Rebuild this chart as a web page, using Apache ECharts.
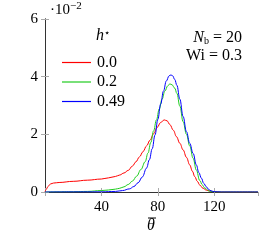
<!DOCTYPE html>
<html><head><meta charset="utf-8">
<script src="https://cdn.jsdelivr.net/npm/echarts@6/dist/echarts.min.js"></script>
<style>html,body{margin:0;padding:0;background:#fff}#c{width:259px;height:241px}</style>
</head><body><div id="c"></div>
<script>
// values in units of 1e-2
const seriesNames = ['0.0', '0.2', '0.49'];
const thetaRed = [0,1,2,3,4,6,10,20,30,40,45,50,53,56,59,62,64.5,67,69.5,72,74.5,77,79.5,82,84.5,86.5,88.5,91,93.2,95.6,97.9,100.3,102.6,104.5,106.2,108,109.7,112,114.2,117,120,124,151];
const valuesRed = [0,0.1,0.18,0.24,0.28,0.31,0.33,0.37,0.41,0.45,0.49,0.54,0.59,0.66,0.75,0.9,1.05,1.22,1.4,1.6,1.8,2.02,2.24,2.41,2.5,2.47,2.34,2.14,1.92,1.69,1.46,1.2,0.94,0.72,0.53,0.37,0.24,0.13,0.07,0.03,0.01,0,0];
const thetaGreen = [0,20,30,40,45,50,53,56,59,62,65,68,71,73,75,77,79,81,83,85,87,88.5,90,92,93.5,95.6,97.9,100.3,102.6,105,107.3,109.7,111.5,113.2,116.5,120,125,151];
const valuesGreen = [0,0.01,0.02,0.05,0.07,0.1,0.13,0.18,0.26,0.38,0.55,0.78,1.05,1.35,1.72,2.12,2.5,2.88,3.22,3.5,3.68,3.75,3.72,3.6,3.42,2.98,2.44,2.0,1.6,1.17,0.76,0.4,0.25,0.14,0.03,0.005,0,0];
const thetaBlue = [0,40,50,55,60,63,66,69,72,74,76,78,80,82,84,86,88,89.3,90.5,92,93.5,95.6,97.9,100.3,102.6,105,107.3,109,110.9,112.5,114.4,116,117.7,120,125,151];
const valuesBlue = [0,0.005,0.02,0.05,0.11,0.19,0.32,0.52,0.83,1.12,1.5,1.98,2.52,3.05,3.5,3.85,4.03,4.06,4.03,3.9,3.7,3.22,2.62,2.09,1.69,1.34,0.94,0.68,0.48,0.3,0.18,0.09,0.04,0.01,0,0];
const xTicks = [40, 80, 120];
const yTicks = [0, 2, 4, 6];
const colors = ['#ff0000', '#1fcc1f', '#0000ff'];

const zip = (xs, ys) => xs.map((x, i) => [x, ys[i]]);
const F = 'Liberation Serif';
const chart = echarts.init(document.getElementById('c'), null, {renderer: 'canvas'});
const axisCommon = {
  axisLine: {show: true, lineStyle: {color: '#333', width: 1}},
  axisTick: {show: true, inside: true, length: 4, lineStyle: {color: '#aaa', width: 1}},
  splitLine: {show: false}
};
chart.setOption({
  animation: false,
  grid: {left: 45, top: 19, right: 1, bottom: 49, containLabel: false, outerBoundsMode: 'none'},
  xAxis: [
    Object.assign({type: 'value', min: 0, max: 151, interval: 40, position: 'bottom',
      axisLabel: {show: true, showMaxLabel: false, margin: 8, color: '#000', fontFamily: F, fontSize: 15,
        formatter: v => xTicks.includes(v) ? String(v) : ''}}, axisCommon),
    Object.assign({type: 'value', min: 0, max: 151, interval: 40, position: 'top',
      axisLabel: {show: false}}, axisCommon)
  ],
  yAxis: [
    Object.assign({type: 'value', min: 0, max: 6, interval: 2, position: 'left',
      axisLabel: {show: true, margin: 7, color: '#000', fontFamily: F, fontSize: 15,
        formatter: v => yTicks.includes(v) ? String(v) : ''}}, axisCommon),
    Object.assign({type: 'value', min: 0, max: 6, interval: 2, position: 'right',
      axisLabel: {show: false}}, axisCommon)
  ],
  legend: {
    orient: 'vertical', left: 57, top: 49, itemWidth: 29, itemHeight: 1.2, itemGap: 2.5,
    icon: 'rect',
    textStyle: {color: '#000', fontFamily: F, fontSize: 16, padding: [0, 0, 0, 1], lineHeight: 17},
    data: seriesNames
  },
  series: [
    {name: seriesNames[0], type: 'line', data: zip(thetaRed, valuesRed), color: colors[0]},
    {name: seriesNames[1], type: 'line', data: zip(thetaGreen, valuesGreen), color: colors[1]},
    {name: seriesNames[2], type: 'line', data: zip(thetaBlue, valuesBlue), color: colors[2]}
  ].map(s => Object.assign(s, {showSymbol: false, symbol: 'none', smooth: 0.4, smoothMonotone: 'x',
      lineStyle: {width: 1}, clip: true})),
  graphic: [
    {type: 'text', left: 96, top: 28, style: {text: '{i|h}{s|\u22c6}', rich: {
      i: {fontFamily: F, fontStyle: 'italic', fontSize: 16, fill: '#000'},
      s: {fontFamily: F, fontSize: 10, fill: '#000', verticalAlign: 'top', padding: [0,0,6,0]}}}},
    {type: 'text', left: 50, top: 1, style: {text: '{a|\u00b710}{b|\u22122}', rich: {
      a: {fontFamily: F, fontSize: 15, fill: '#000'},
      b: {fontFamily: F, fontSize: 11, fill: '#000', padding: [0,0,8,0]}}}},
    {type: 'text', right: 17, top: 30, style: {text: '{i|N}{s|b}{n| = 20}', align: 'right', rich: {
      i: {fontFamily: F, fontStyle: 'italic', fontSize: 16, fill: '#000'},
      s: {fontFamily: F, fontSize: 10, fill: '#000', padding: [6,0,0,0]},
      n: {fontFamily: F, fontSize: 16, fill: '#000'}}}},
    {type: 'text', right: 17, top: 48, style: {text: 'Wi = 0.3', fontFamily: F, fontSize: 16, fill: '#000'}},
    {type: 'text', left: 147, top: 218, style: {text: '\u03b8', fontFamily: F, fontStyle: 'italic', fontSize: 16, fill: '#000'}},
    {type: 'line', shape: {x1: 148, y1: 218, x2: 156, y2: 218}, style: {stroke: '#000', lineWidth: 1}}
  ]
});
</script></body></html>
